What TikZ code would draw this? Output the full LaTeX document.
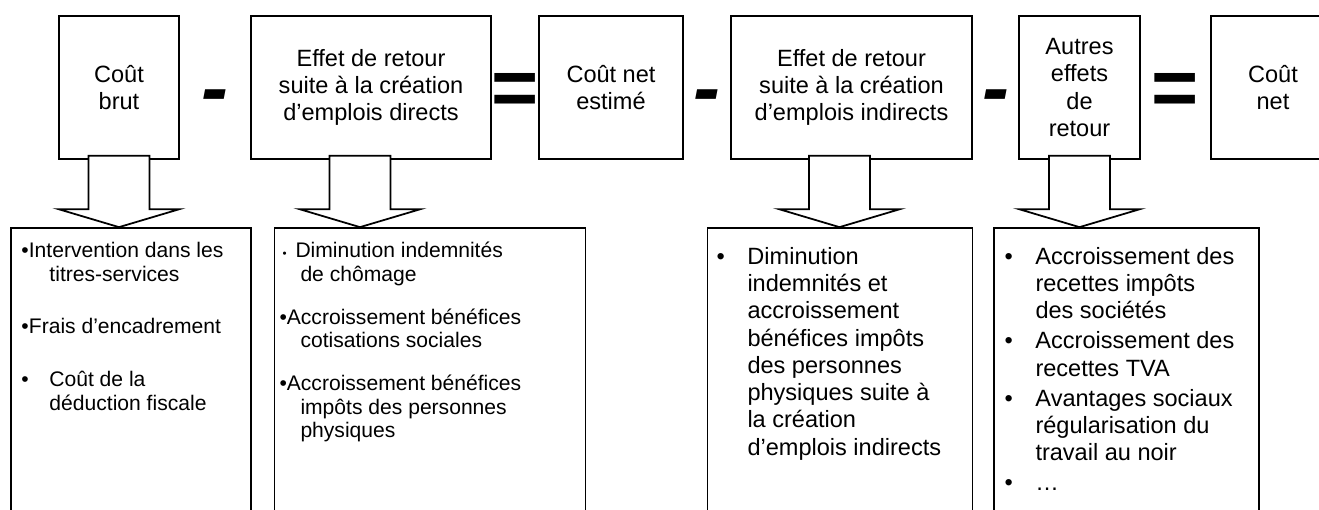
\documentclass[tikz,border=0pt]{standalone}
\usepackage{fontspec}
\setmainfont{Liberation Sans}
\usepackage{graphicx}
\usepackage{tikz}

\tikzset{
  topbox/.style={draw, line width=1pt, minimum height=2.86cm, inner sep=0pt, align=center, font=\fontsize{13.4}{15.4}\selectfont},
  listbox/.style={draw, line width=1pt, minimum height=5.96cm, inner sep=0pt},
  smalllist/.style={anchor=north west, inner sep=0pt, align=left, font=\fontsize{12}{13.4}\selectfont},
  biglist/.style={anchor=north west, inner sep=0pt, align=left, font=\fontsize{13.4}{15.5}\selectfont},
  sign/.style={anchor=base, inner sep=0pt, font=\fontsize{46}{46}\selectfont\bfseries},
  fatarrow/.style={draw, fill=white, line width=1pt, line join=miter}
}

% first line height, bullet and indent for the lists
\newcommand{\tp}{\rule{0pt}{0.4cm}}
\newcommand{\bl}{\makebox[0.62cm][l]{•}}
\newcommand{\bi}{\hspace*{0.62cm}}

% block arrow from a top box down to a list box
\newcommand{\blockarrow}[3]{%
  \coordinate (ax) at ([shift={(#3,0)}]#1.south);
  \coordinate (tip) at (ax |- #2.north);
  \draw[fatarrow] ([shift={(-30.5,-4)}]ax) -- ([shift={(-30.5,-18)}]tip) -- ([shift={(-60.5,-18)}]tip) -- (tip)
    -- ([shift={(60.5,-18)}]tip) -- ([shift={(30.5,-18)}]tip) -- ([shift={(30.5,-4)}]ax) -- cycle;
}

\begin{document}
\begin{tikzpicture}[x=0.02cm, y=-0.02cm]
    \useasboundingbox (0,0) rectangle (1319,510);

    % top row
    \node[topbox, minimum width=2.4cm] (b1) at (119,87.5) {Coût\\brut};
    \node[topbox, minimum width=4.8cm] (b2) at (371,87.5) {Effet de retour\\suite à la création\\d’emplois directs};
    \node[topbox, minimum width=2.88cm] (b3) at (611,87.5) {Coût net\\estimé};
    \node[topbox, minimum width=4.82cm] (b4) at (851.5,87.5) {Effet de retour\\suite à la création\\d’emplois indirects};
    \node[topbox, minimum width=2.42cm] (b5) at (1079.5,87.5) {Autres\\effets\\de\\retour};
    \node[topbox, minimum width=2.48cm] (b6) at (1273,87.5) {Coût\\net};

    \node[sign] (m1) at (215,116) {\itshape -};
    \node[sign] (e1) at (515,116) {=};
    \node[sign] (m2) at (707,116) {\itshape -};
    \node[sign] (m3) at (995.5,116) {\itshape -};
    \node[sign] (e2) at (1175.5,116) {=};

    % bottom row
    \node[listbox, minimum width=4.8cm] (l1) at (131,377) {};
    \node[listbox, minimum width=6.22cm] (l2) at (430,377) {};
    \node[listbox, minimum width=5.3cm] (l3) at (840,377) {};
    \node[listbox, minimum width=5.3cm] (l4) at (1126.5,377) {};

    \blockarrow{b1}{l1}{0}
    \blockarrow{b2}{l2}{-11}
    \blockarrow{b4}{l3}{-12}
    \blockarrow{b5}{l4}{0}

    \node[smalllist] (t1) at ([shift={(11,10)}]l1.north west)
      {\tp•Intervention dans les\\ \hspace*{0.56cm}titres-services\\[0.57cm]
       •Frais d’encadrement\\[0.6cm]
       •\hspace*{0.41cm}Coût de la\\ \hspace*{0.56cm}déduction fiscale};
    \node[smalllist] (t2) at ([shift={(5.5,10)}]l2.north west)
      {\tp\makebox[0.32cm][l]{\hspace{0.06cm}\scalebox{0.55}{•}}Diminution indemnités\\ \hspace*{0.42cm}de chômage\\[0.39cm]
       •Accroissement bénéfices\\ \hspace*{0.42cm}cotisations sociales\\[0.39cm]
       •Accroissement bénéfices\\ \hspace*{0.42cm}impôts des personnes\\ \hspace*{0.42cm}physiques};
    \node[biglist] (t3) at ([shift={(9.5,17)}]l3.north west)
      {\tp\bl Diminution\\ \bi indemnités et\\ \bi accroissement\\ \bi bénéfices impôts\\
       \bi des personnes\\ \bi physiques suite à\\ \bi la création\\ \bi d’emplois indirects};
    \node[biglist] (t4) at ([shift={(11,17)}]l4.north west)
      {\tp\bl Accroissement des\\ \bi recettes impôts\\ \bi des sociétés\\[0.056cm]
       \bl Accroissement des\\ \bi recettes TVA\\[0.056cm]
       \bl Avantages sociaux\\ \bi régularisation du\\ \bi travail au noir\\[0.056cm]
       \bl …};
\end{tikzpicture}
\end{document}
